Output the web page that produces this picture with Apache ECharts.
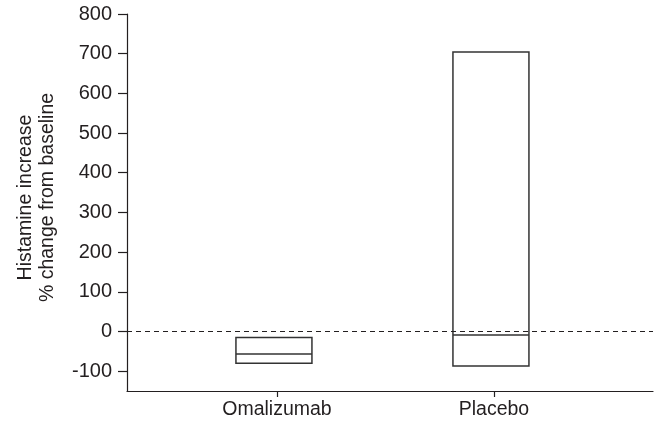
<!DOCTYPE html>
<html>
<head>
<meta charset="utf-8">
<script src="https://cdn.jsdelivr.net/npm/echarts@6/dist/echarts.min.js"></script>
<style>
  html, body { margin: 0; padding: 0; background: #fff; }
  #chart { width: 658px; height: 422px; }
</style>
</head>
<body>
<div id="chart"></div>
<script>
const categories = ['Omalizumab', 'Placebo'];
const q1Values = [-80, -87];
const medianValues = [-57, -9];
const q3Values = [-15, 704];
const yTicks = [-100, 0, 100, 200, 300, 400, 500, 600, 700, 800];

const ink = '#231f20';
const font = 'Liberation Sans, Arial, sans-serif';

const boxData = categories.map((c, i) => [i + 1, q1Values[i], medianValues[i], q3Values[i]]);

function renderBox(params, api) {
  const x = api.value(0);
  const lo = api.coord([x, api.value(1)]);
  const mid = api.coord([x, api.value(2)]);
  const hi = api.coord([x, api.value(3)]);
  const half = 38;
  const shift = -3;
  const style = { stroke: '#333', lineWidth: 1.5, fill: 'none' };
  return {
    type: 'group',
    children: [
      {
        type: 'rect',
        shape: { x: lo[0] - half + shift, y: hi[1], width: half * 2, height: lo[1] - hi[1] },
        style: style
      },
      {
        type: 'line',
        shape: { x1: mid[0] - half + shift, y1: mid[1], x2: mid[0] + half + shift, y2: mid[1] },
        style: style
      }
    ]
  };
}

const chart = echarts.init(document.getElementById('chart'));
chart.setOption({
  animation: false,
  grid: { left: 127, right: 5, top: 14, bottom: 31 },
  xAxis: {
    type: 'value',
    min: 0.309,
    max: 2.733,
    splitLine: { show: false },
    axisLine: { show: true, onZero: false, lineStyle: { color: ink, width: 1.2 } },
    axisTick: { show: true, length: 6, customValues: [1, 2], lineStyle: { color: ink, width: 1.2 } },
    axisLabel: {
      customValues: [1, 2],
      formatter: v => categories[Math.round(v) - 1] || '',
      color: ink,
      fontFamily: font,
      fontSize: 19.5,
      margin: 9
    }
  },
  yAxis: {
    type: 'value',
    min: -150,
    max: 800,
    splitLine: { show: false },
    axisLine: { show: true, lineStyle: { color: ink, width: 1.2 } },
    axisTick: { show: true, length: 9, customValues: yTicks, lineStyle: { color: ink, width: 1.2 } },
    axisLabel: {
      customValues: yTicks,
      color: ink,
      fontFamily: font,
      fontSize: 20,
      margin: 15
    },
    name: 'Histamine increase\n% change from baseline',
    nameLocation: 'middle',
    nameRotate: 90,
    nameGap: 68,
    nameTextStyle: {
      color: ink,
      fontFamily: font,
      fontSize: 19.5,
      lineHeight: 22,
      padding: [0, 0, 0, 10]
    }
  },
  series: [
    {
      type: 'custom',
      renderItem: renderBox,
      data: boxData,
      encode: { x: 0, y: [1, 2, 3] },
      markLine: {
        silent: true,
        symbol: 'none',
        label: { show: false },
        lineStyle: { color: ink, type: [5, 4], width: 1.2 },
        data: [{ yAxis: 0 }]
      }
    }
  ]
});
</script>
</body>
</html>
